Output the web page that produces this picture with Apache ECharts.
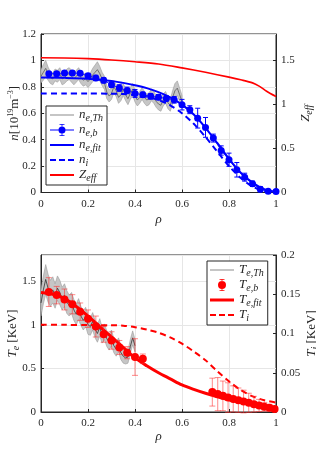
<!DOCTYPE html>
<html><head><meta charset="utf-8">
<script src="https://cdn.jsdelivr.net/npm/echarts@6/dist/echarts.min.js"></script>
<style>html,body{margin:0;padding:0;background:#fff}#c{width:316px;height:464px}</style>
</head><body><div id="c"></div>
<script>
// ---------- TOP PANEL DATA ----------
const rhoTh = [0,0.01,0.02,0.03,0.04,0.05,0.06,0.07,0.08,0.09,0.10,0.11,0.12,0.13,0.14,0.15,0.16,0.17,0.18,0.19,0.20,0.21,0.22,0.23,0.24,0.25,0.26,0.27,0.28,0.29,0.30,0.31,0.32,0.33,0.34,0.35,0.36,0.37,0.38,0.39,0.40,0.41,0.42,0.43,0.44,0.45,0.46,0.47,0.48,0.49,0.50,0.51,0.52,0.53,0.54,0.55,0.56,0.57,0.58,0.59,0.60];
const neTh = [0.88,0.91,0.94,0.90,0.87,0.86,0.89,0.88,0.90,0.86,0.87,0.89,0.90,0.88,0.86,0.88,0.90,0.87,0.85,0.86,0.84,0.86,0.89,0.91,0.93,0.90,0.86,0.83,0.76,0.73,0.75,0.80,0.77,0.72,0.74,0.78,0.74,0.71,0.75,0.78,0.73,0.70,0.72,0.75,0.72,0.70,0.71,0.74,0.72,0.69,0.67,0.66,0.70,0.72,0.68,0.66,0.72,0.77,0.79,0.74,0.69];
const neThHalf = [0.05,0.06,0.06,0.05,0.045,0.045,0.045,0.045,0.045,0.045,0.045,0.045,0.045,0.045,0.045,0.045,0.045,0.045,0.045,0.045,0.045,0.045,0.05,0.055,0.06,0.055,0.05,0.05,0.05,0.045,0.045,0.045,0.045,0.045,0.045,0.045,0.045,0.045,0.045,0.045,0.045,0.045,0.045,0.045,0.045,0.045,0.045,0.045,0.045,0.045,0.045,0.045,0.045,0.045,0.045,0.045,0.05,0.055,0.055,0.05,0.045];
const rhoB = [0.0333,0.0667,0.1,0.1333,0.1667,0.2,0.2333,0.2667,0.3,0.3333,0.3667,0.4,0.4333,0.4667,0.5,0.5333,0.5667,0.6,0.6333,0.6667,0.7,0.7333,0.7667,0.8,0.8333,0.8667,0.9,0.9333,0.9667,1.0];
const neB = [0.899,0.900,0.905,0.905,0.902,0.884,0.867,0.849,0.816,0.791,0.773,0.750,0.740,0.728,0.722,0.712,0.702,0.665,0.627,0.563,0.493,0.412,0.318,0.248,0.172,0.116,0.066,0.025,0.010,0.008];
const neBErr = [0.015,0.015,0.015,0.015,0.015,0.015,0.02,0.02,0.02,0.025,0.025,0.03,0.02,0.02,0.02,0.02,0.025,0.04,0.03,0.075,0.075,0.03,0.035,0.05,0.055,0.03,0.02,0.02,0.01,0.01];
const rhoFit = [0,0.1,0.2,0.3,0.35,0.4,0.45,0.5,0.55,0.6,0.65,0.7,0.75,0.8,0.85,0.9,0.95,1.0];
const neFit = [0.870,0.868,0.862,0.845,0.830,0.812,0.790,0.760,0.720,0.665,0.590,0.490,0.375,0.255,0.150,0.075,0.025,0.005];
const ni = [0.750,0.750,0.750,0.748,0.745,0.738,0.725,0.700,0.660,0.600,0.520,0.420,0.310,0.200,0.110,0.045,0.012,0.000];
const rhoZ = [0,0.1,0.2,0.3,0.4,0.5,0.6,0.7,0.8,0.85,0.9,0.93,0.96,1.0];
const zeff = [1.530,1.528,1.520,1.505,1.485,1.460,1.415,1.365,1.310,1.280,1.245,1.205,1.150,1.090];

// ---------- BOTTOM PANEL DATA ----------
const rhoTeTh = [0,0.01,0.02,0.03,0.04,0.05,0.06,0.07,0.08,0.09,0.10,0.11,0.12,0.13,0.14,0.15,0.16,0.17,0.18,0.19,0.20,0.21,0.22,0.23,0.24,0.25,0.26,0.27,0.28,0.29,0.30,0.31,0.32,0.33,0.34,0.35,0.36,0.37,0.38,0.39,0.40];
const teTh = [1.25,1.40,1.52,1.42,1.36,1.40,1.33,1.42,1.37,1.30,1.34,1.26,1.22,1.25,1.17,1.12,1.18,1.10,1.05,1.09,1.00,0.98,1.04,0.95,0.90,0.97,0.88,0.92,0.84,0.80,0.85,0.76,0.72,0.77,0.68,0.64,0.62,0.63,0.75,0.85,0.76];
const teThHalf = [0.15,0.16,0.17,0.16,0.15,0.15,0.14,0.14,0.14,0.13,0.13,0.13,0.12,0.12,0.12,0.12,0.12,0.11,0.11,0.11,0.11,0.10,0.10,0.10,0.10,0.10,0.09,0.09,0.09,0.09,0.09,0.08,0.08,0.08,0.08,0.08,0.07,0.07,0.08,0.08,0.07];
const rhoTeB = [0.0333,0.0667,0.1,0.1333,0.1667,0.2,0.2333,0.2667,0.3,0.3333,0.3667,0.4,0.4333,0.729,0.752,0.774,0.796,0.818,0.840,0.862,0.884,0.906,0.928,0.950,0.972,0.994];
const teB = [1.375,1.34,1.29,1.235,1.15,1.07,0.98,0.89,0.82,0.74,0.68,0.63,0.61,0.228,0.205,0.185,0.165,0.150,0.135,0.120,0.105,0.090,0.075,0.060,0.048,0.035];
const teBErr = [0.165,0.10,0.12,0.11,0.10,0.10,0.12,0.09,0.10,0.08,0.07,0.21,0.055,0.16,0.19,0.17,0.17,0.15,0.14,0.13,0.11,0.09,0.07,0.05,0.04,0.03];
const rhoTeFit = [0,0.05,0.1,0.15,0.2,0.25,0.3,0.35,0.4,0.45,0.5,0.55,0.6,0.65,0.7,0.75,0.8,0.85,0.9,0.95,1.0];
const teFit = [1.37,1.35,1.30,1.21,1.10,0.98,0.86,0.74,0.62,0.53,0.45,0.38,0.31,0.26,0.215,0.175,0.14,0.11,0.08,0.055,0.03];
const rhoTi = [0,0.1,0.2,0.3,0.35,0.4,0.45,0.5,0.55,0.6,0.65,0.7,0.75,0.8,0.85,0.9,0.95,1.0];
const ti = [0.111,0.111,0.1108,0.1105,0.110,0.108,0.105,0.101,0.095,0.087,0.077,0.066,0.052,0.039,0.028,0.020,0.015,0.012];

// ---------- styles ----------
const SERIF = "'Liberation Serif','DejaVu Serif',serif";
const TXT = '#262626';
const rich = {
  i:{fontFamily:SERIF,fontStyle:'italic',fontSize:13,lineHeight:16,color:TXT},
  r:{fontFamily:SERIF,fontSize:13,lineHeight:16,color:TXT},
  sub:{fontFamily:SERIF,fontStyle:'italic',fontSize:10,lineHeight:8,verticalAlign:'bottom',color:TXT},
  sup:{fontFamily:SERIF,fontSize:8,lineHeight:8,verticalAlign:'top',color:TXT}
};
const zip = (a,b)=>a.map((v,i)=>[v,b[i]]);

function bandSeries(xi, yi, xs, ys, half){
  return {type:'custom', xAxisIndex:xi, yAxisIndex:yi, silent:true, z:1,
    data: xs.map((x,i)=>[x, ys[i]-half[i], ys[i]+half[i]]),
    encode:{x:0,y:[1,2]},
    renderItem:(params,api)=>{
      if(params.dataIndex!==0) return null;
      const pts=[];
      for(let i=0;i<xs.length;i++) pts.push(api.coord([xs[i], ys[i]+half[i]]));
      for(let i=xs.length-1;i>=0;i--) pts.push(api.coord([xs[i], ys[i]-half[i]]));
      return {type:'polygon', shape:{points:pts}, style:{fill:'#c6c6c6', stroke:'#9a9a9a', lineWidth:0.6}};
    }};
}
function errSeries(xi, yi, xs, ys, err, color, cap){
  return {type:'custom', xAxisIndex:xi, yAxisIndex:yi, silent:true, z:3,
    data: xs.map((x,i)=>[x, ys[i]-err[i], ys[i]+err[i]]),
    encode:{x:0,y:[1,2]},
    renderItem:(params,api)=>{
      const x=api.value(0);
      const a=api.coord([x, api.value(2)]), b=api.coord([x, api.value(1)]);
      const st={stroke:color, lineWidth:1};
      return {type:'group', children:[
        {type:'line', shape:{x1:a[0],y1:a[1],x2:b[0],y2:b[1]}, style:st},
        {type:'line', shape:{x1:a[0]-cap,y1:a[1],x2:a[0]+cap,y2:a[1]}, style:st},
        {type:'line', shape:{x1:b[0]-cap,y1:b[1],x2:b[0]+cap,y2:b[1]}, style:st}
      ]};
    }};
}

// legend icons, 24x14 box (tiny corner specks fix the bounding box)
const C0 = 'M0 0H0.01V0.01H0Z M23.99 13.99H24V14H23.99Z ';
const iconThin = 'path://' + C0 + 'M0 6.5H24V7.5H0Z';
const iconSolid = 'path://' + C0 + 'M0 6H24V8H0Z';
const iconThick = 'path://' + C0 + 'M0 5.5H24V8.5H0Z';
const iconDash = 'path://' + C0 + 'M0 6H6V8H0Z M9 6H15V8H9Z M18 6H24V8H18Z';
const iconErrLine = 'path://' + C0 + 'M0 6.6H24V7.4H0Z M11.6 1H12.4V13H11.6Z M9.5 1H14.5V1.8H9.5Z M9.5 12.2H14.5V13H9.5Z M15.5 7A3.5 3.5 0 1 1 8.5 7A3.5 3.5 0 1 1 15.5 7Z';
const iconErr = 'path://' + C0 + 'M11.6 1H12.4V13H11.6Z M9.5 1H14.5V1.8H9.5Z M9.5 12.2H14.5V13H9.5Z M16 7A4 4 0 1 1 8 7A4 4 0 1 1 16 7Z';

const legendNames = {
  ne_Th:'{i|n}{sub|e,Th}', ne_b:'{i|n}{sub|e,b}', ne_fit:'{i|n}{sub|e,fit}', ni:'{i|n}{sub|i}', Zeff:'{i|Z}{sub|eff}',
  Te_Th:'{i|T}{sub|e,Th}', Te_b:'{i|T}{sub|e,b}', Te_fit:'{i|T}{sub|e,fit}', Ti:'{i|T}{sub|i}'
};

const axisLbl = {fontFamily:SERIF, fontSize:11, color:TXT};
function xAx(gi, name, gap){
  return {type:'value', gridIndex:gi, min:0, max:1, interval:0.2,
    name:name, nameLocation:'middle', nameGap:gap, nameTextStyle:{rich:rich},
    axisLine:{lineStyle:{color:TXT,width:1}}, axisTick:{inside:true,length:3,lineStyle:{color:TXT}},
    axisLabel:{...axisLbl, margin:6}, splitLine:{show:true,lineStyle:{color:'#e6e6e6',width:1}}};
}
function yAx(gi, pos, max, interval, name, gap, split, showMax){
  return {type:'value', gridIndex:gi, position:pos, min:0, max:max, interval:interval,
    name:name, nameLocation:'middle', nameRotate:90, nameGap:gap, nameMoveOverlap:false, nameTextStyle:{rich:rich},
    axisLine:{show:true,lineStyle:{color:TXT,width:1}}, axisTick:{show:true,inside:true,length:3,lineStyle:{color:TXT}},
    axisLabel:{...axisLbl, margin:5, showMaxLabel:showMax}, splitLine:{show:split,lineStyle:{color:'#e6e6e6',width:1}}};
}
const legendBase = {orient:'vertical', selectedMode:false, itemWidth:24, itemHeight:14, itemGap:0,
  borderColor:TXT, borderWidth:1, backgroundColor:'#fff', formatter:n=>legendNames[n], textStyle:{rich:rich}};

const option = {
  animation:false,
  backgroundColor:'#fff',
  grid:[
    {left:41, top:34, width:235, height:158.5, containLabel:false, outerBoundsMode:'none', show:true, borderColor:TXT, borderWidth:1, backgroundColor:'transparent'},
    {left:41, top:255, width:235, height:157, containLabel:false, outerBoundsMode:'none', show:true, borderColor:TXT, borderWidth:1, backgroundColor:'transparent'}
  ],
  xAxis:[ xAx(0,'{i|ρ}',19), xAx(1,'{i|ρ}',16) ],
  yAxis:[
    yAx(0,'left',1.2,0.2,'{i|n}{r|[10}{sup|19}{r|m}{sup|−3}{r|]}',18,true,true),
    yAx(0,'right',1.8,0.5,'{i|Z}{sub|eff}',22,false,false),
    yAx(1,'left',1.8,0.5,'{i|T}{sub|e}{r| [KeV]}',20,true,false),
    yAx(1,'right',0.2,0.05,'{i|T}{sub|i}{r| [KeV]}',28,false,true)
  ],
  legend:[
    {...legendBase, left:46, top:106, padding:[2,4,2,4],
     data:[{name:'ne_Th',icon:iconThin},{name:'ne_b',icon:iconErrLine},{name:'ne_fit',icon:iconSolid},{name:'ni',icon:iconDash},{name:'Zeff',icon:iconSolid}]},
    {...legendBase, left:207, top:261, padding:[2,4,2,3],
     data:[{name:'Te_Th',icon:iconThin},{name:'Te_b',icon:iconErr},{name:'Te_fit',icon:iconThick},{name:'Ti',icon:iconDash}]}
  ],
  series:[
    // top
    bandSeries(0,0,rhoTh,neTh,neThHalf),
    {name:'ne_Th', type:'line', xAxisIndex:0, yAxisIndex:0, data:zip(rhoTh,neTh), symbol:'none', z:2,
     lineStyle:{color:'#5a5a5a', width:0.8}, itemStyle:{color:'#8c8c8c'}},
    {name:'Zeff', type:'line', xAxisIndex:0, yAxisIndex:1, data:zip(rhoZ,zeff), symbol:'none', smooth:0.3, z:2,
     lineStyle:{color:'#ff0000', width:1.6}, itemStyle:{color:'#ff0000'}},
    {name:'ne_fit', type:'line', xAxisIndex:0, yAxisIndex:0, data:zip(rhoFit,neFit), symbol:'none', smooth:0.3, z:2,
     lineStyle:{color:'#0000ff', width:2}, itemStyle:{color:'#0000ff'}},
    {name:'ni', type:'line', xAxisIndex:0, yAxisIndex:0, data:zip(rhoFit,ni), symbol:'none', smooth:0.3, z:2,
     lineStyle:{color:'#0000ff', width:2, type:[6,4]}, itemStyle:{color:'#0000ff'}},
    errSeries(0,0,rhoB,neB,neBErr,'#0000ff',2.5),
    {name:'ne_b', type:'line', xAxisIndex:0, yAxisIndex:0, data:zip(rhoB,neB), symbol:'circle', symbolSize:7, z:4,
     lineStyle:{color:'#0000ff', width:0.8}, itemStyle:{color:'#0000ff'}},
    // bottom
    bandSeries(1,2,rhoTeTh,teTh,teThHalf),
    {name:'Te_Th', type:'line', xAxisIndex:1, yAxisIndex:2, data:zip(rhoTeTh,teTh), symbol:'none', z:2,
     lineStyle:{color:'#303030', width:0.8}, itemStyle:{color:'#8c8c8c'}},
    {name:'Ti', type:'line', xAxisIndex:1, yAxisIndex:3, data:zip(rhoTi,ti), symbol:'none', smooth:0.3, z:2,
     lineStyle:{color:'#ff0000', width:2, type:[6,4]}, itemStyle:{color:'#ff0000'}},
    {name:'Te_fit', type:'line', xAxisIndex:1, yAxisIndex:2, data:zip(rhoTeFit,teFit), symbol:'none', smooth:0.3, z:2,
     lineStyle:{color:'#ff0000', width:3}, itemStyle:{color:'#ff0000'}},
    errSeries(1,2,rhoTeB,teB,teBErr,'rgba(255,40,40,0.55)',3),
    {name:'Te_b', type:'scatter', xAxisIndex:1, yAxisIndex:2, data:zip(rhoTeB,teB), symbol:'circle', symbolSize:8, z:4,
     itemStyle:{color:'#ff0000', opacity:1}}
  ]
};
const chart = echarts.init(document.getElementById('c'), null, {renderer:'canvas'});
chart.setOption(option);
</script></body></html>
